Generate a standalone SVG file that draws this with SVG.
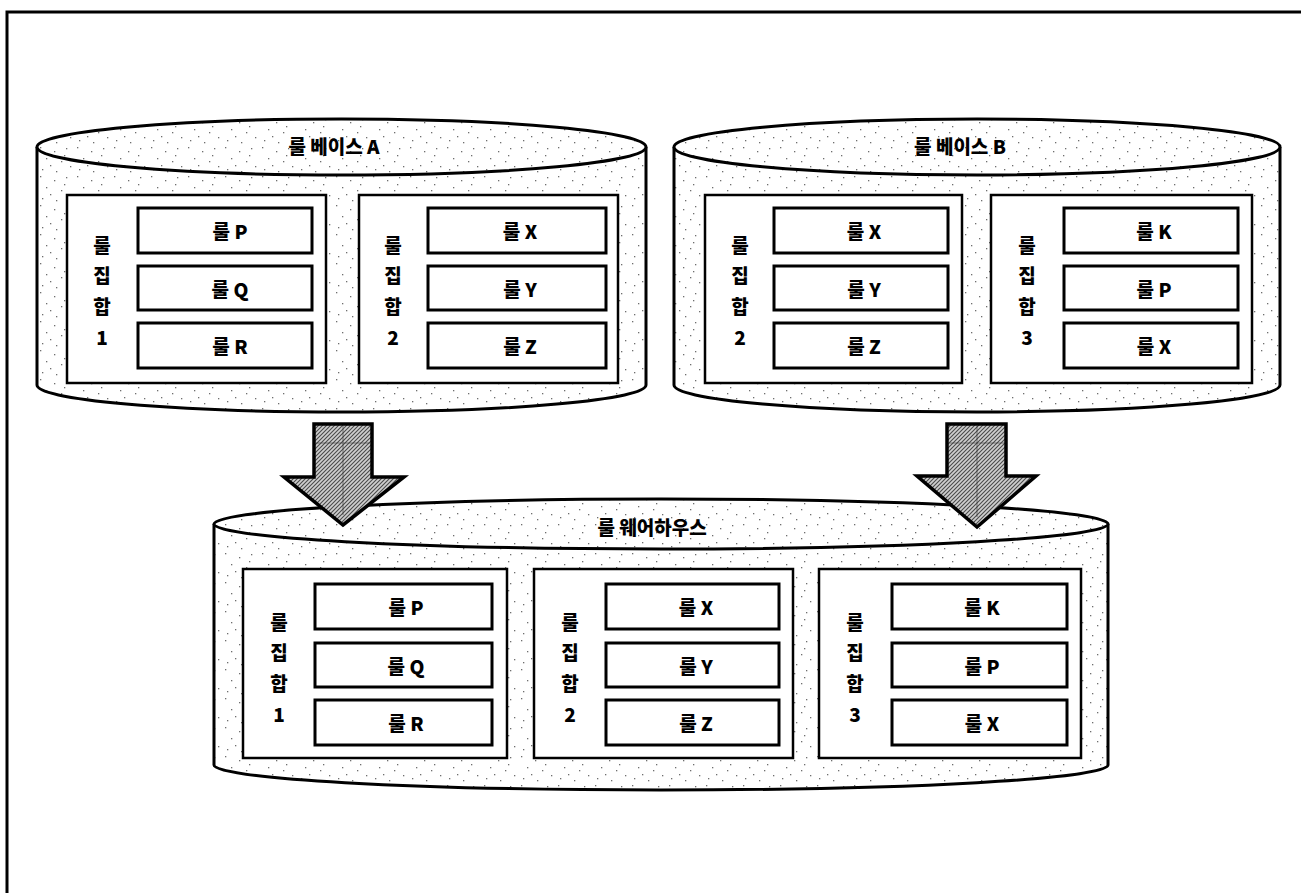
<svg xmlns="http://www.w3.org/2000/svg" width="1301" height="893" viewBox="0 0 1301 893">
  <defs>
    <!-- sparse speckle used on the cylinder bodies -->
    <pattern id="stipple" width="37" height="29" patternUnits="userSpaceOnUse">
      <rect width="37" height="29" fill="#fff"/>
      <g fill="#6e6e6e">
        <rect x="3" y="2" width="1.3" height="1.3"/>
        <rect x="17" y="6" width="1.3" height="1.3"/>
        <rect x="29" y="3" width="1.3" height="1.3"/>
        <rect x="9" y="13" width="1.3" height="1.3"/>
        <rect x="24" y="16" width="1.3" height="1.3"/>
        <rect x="33" y="21" width="1.3" height="1.3"/>
        <rect x="5" y="24" width="1.3" height="1.3"/>
        <rect x="19" y="26" width="1.3" height="1.3"/>
        <rect x="13" y="20" width="1.3" height="1.3"/>
        <rect x="27" y="10" width="1.3" height="1.3"/>
      </g>
    </pattern>
    <!-- dense hatch used on the flow arrows -->
    <pattern id="hatch" width="4" height="4" patternUnits="userSpaceOnUse">
      <rect width="4" height="4" fill="#cfcfcf"/>
      <path d="M0,4 L4,0 M-1,1 L1,-1 M3,5 L5,3" stroke="#4a4a4a" stroke-width="1.1"/>
    </pattern>
  </defs>
  <style>
    .cyl { fill: url(#stipple); stroke: #000; stroke-width: 3; }
    .panel { fill: #fff; stroke: #000; stroke-width: 2.5; }
    .rule { fill: #fff; stroke: #000; stroke-width: 3; }
    .t { font-family: "Noto Sans CJK KR", "Noto Sans", sans-serif; font-weight: 900; font-size: 19px; text-anchor: middle; dominant-baseline: central; fill: #000; }
    .arrow { fill: url(#hatch); stroke: #000; stroke-width: 3.5; stroke-linejoin: miter; }
    .seam { stroke: #333; stroke-width: 1; opacity: 0.6; fill: none; }
  </style>

  <rect width="1301" height="893" fill="#fff"/>

  <!-- page frame: top and left edges only -->
  <path id="frame" d="M7,893 V12 H1301" fill="none" stroke="#000" stroke-width="3"/>

  <!-- rule base A -->
  <g id="rulebase-a">
    <path class="cyl" d="M37,147 V385 A304.5,27 0 0 0 646,385 V147"/>
    <ellipse class="cyl" cx="341.5" cy="147" rx="304.5" ry="28"/>
    <text class="t" x="334" y="145">룰 베이스 A</text>
    <g id="a-set1">
      <rect class="panel" x="67" y="195" width="259" height="188"/>
      <text class="t" x="102" y="244">룰</text>
      <text class="t" x="102" y="274">집</text>
      <text class="t" x="102" y="305">합</text>
      <text class="t" x="102" y="336">1</text>
      <g id="a-set1-p"><rect class="rule" x="138" y="208" width="174" height="45"/><text class="t" x="230" y="230">룰 P</text></g>
      <g id="a-set1-q"><rect class="rule" x="138" y="266" width="174" height="44"/><text class="t" x="230" y="288">룰 Q</text></g>
      <g id="a-set1-r"><rect class="rule" x="138" y="323" width="174" height="45"/><text class="t" x="230" y="345">룰 R</text></g>
    </g>
    <g id="a-set2">
      <rect class="panel" x="359" y="195" width="259" height="188"/>
      <text class="t" x="393" y="244">룰</text>
      <text class="t" x="393" y="274">집</text>
      <text class="t" x="393" y="305">합</text>
      <text class="t" x="393" y="336">2</text>
      <g id="a-set2-x"><rect class="rule" x="428" y="208" width="178" height="45"/><text class="t" x="520" y="230">룰 X</text></g>
      <g id="a-set2-y"><rect class="rule" x="428" y="266" width="178" height="44"/><text class="t" x="520" y="288">룰 Y</text></g>
      <g id="a-set2-z"><rect class="rule" x="428" y="323" width="178" height="45"/><text class="t" x="520" y="345">룰 Z</text></g>
    </g>
  </g>

  <!-- rule base B -->
  <g id="rulebase-b">
    <path class="cyl" d="M674,147 V385 A303,27 0 0 0 1280,385 V147"/>
    <ellipse class="cyl" cx="977" cy="147" rx="303" ry="28"/>
    <text class="t" x="960" y="145">룰 베이스 B</text>
    <g id="b-set2">
      <rect class="panel" x="705" y="195" width="257" height="188"/>
      <text class="t" x="740" y="244">룰</text>
      <text class="t" x="740" y="274">집</text>
      <text class="t" x="740" y="305">합</text>
      <text class="t" x="740" y="336">2</text>
      <g id="b-set2-x"><rect class="rule" x="774" y="208" width="174" height="45"/><text class="t" x="864" y="230">룰 X</text></g>
      <g id="b-set2-y"><rect class="rule" x="774" y="266" width="174" height="44"/><text class="t" x="864" y="288">룰 Y</text></g>
      <g id="b-set2-z"><rect class="rule" x="774" y="323" width="174" height="45"/><text class="t" x="864" y="345">룰 Z</text></g>
    </g>
    <g id="b-set3">
      <rect class="panel" x="991" y="195" width="261" height="188"/>
      <text class="t" x="1027" y="244">룰</text>
      <text class="t" x="1027" y="274">집</text>
      <text class="t" x="1027" y="305">합</text>
      <text class="t" x="1027" y="336">3</text>
      <g id="b-set3-k"><rect class="rule" x="1064" y="208" width="174" height="45"/><text class="t" x="1154" y="230">룰 K</text></g>
      <g id="b-set3-p"><rect class="rule" x="1064" y="266" width="174" height="44"/><text class="t" x="1154" y="288">룰 P</text></g>
      <g id="b-set3-x"><rect class="rule" x="1064" y="323" width="174" height="45"/><text class="t" x="1154" y="345">룰 X</text></g>
    </g>
  </g>

  <!-- rule warehouse -->
  <g id="warehouse">
    <path class="cyl" d="M214,524 V765 A447,25 0 0 0 1108,765 V524"/>
    <ellipse class="cyl" cx="661" cy="524" rx="447" ry="25"/>
    <text class="t" x="652" y="526">룰 웨어하우스</text>
    <g id="w-set1">
      <rect class="panel" x="243" y="569" width="264" height="189"/>
      <text class="t" x="279" y="621">룰</text>
      <text class="t" x="279" y="651">집</text>
      <text class="t" x="279" y="682">합</text>
      <text class="t" x="279" y="713">1</text>
      <g id="w-set1-p"><rect class="rule" x="315" y="584" width="177" height="45"/><text class="t" x="406" y="606">룰 P</text></g>
      <g id="w-set1-q"><rect class="rule" x="315" y="643" width="177" height="44"/><text class="t" x="406" y="665">룰 Q</text></g>
      <g id="w-set1-r"><rect class="rule" x="315" y="700" width="177" height="45"/><text class="t" x="406" y="722">룰 R</text></g>
    </g>
    <g id="w-set2">
      <rect class="panel" x="534" y="569" width="259" height="189"/>
      <text class="t" x="570" y="621">룰</text>
      <text class="t" x="570" y="651">집</text>
      <text class="t" x="570" y="682">합</text>
      <text class="t" x="570" y="713">2</text>
      <g id="w-set2-x"><rect class="rule" x="606" y="584" width="173" height="45"/><text class="t" x="696" y="606">룰 X</text></g>
      <g id="w-set2-y"><rect class="rule" x="606" y="643" width="173" height="44"/><text class="t" x="696" y="665">룰 Y</text></g>
      <g id="w-set2-z"><rect class="rule" x="606" y="700" width="173" height="45"/><text class="t" x="696" y="722">룰 Z</text></g>
    </g>
    <g id="w-set3">
      <rect class="panel" x="819" y="569" width="262" height="189"/>
      <text class="t" x="855" y="621">룰</text>
      <text class="t" x="855" y="651">집</text>
      <text class="t" x="855" y="682">합</text>
      <text class="t" x="855" y="713">3</text>
      <g id="w-set3-k"><rect class="rule" x="892" y="584" width="175" height="45"/><text class="t" x="982" y="606">룰 K</text></g>
      <g id="w-set3-p"><rect class="rule" x="892" y="643" width="175" height="44"/><text class="t" x="982" y="665">룰 P</text></g>
      <g id="w-set3-x"><rect class="rule" x="892" y="700" width="175" height="45"/><text class="t" x="982" y="722">룰 X</text></g>
    </g>
  </g>

  <!-- merge arrows from each rule base into the warehouse -->
  <g id="connectors">
    <g id="arrow-a">
      <polygon class="arrow" points="314,424 372,424 372,477 404,477 343,525 284,477 314,477"/>
      <path class="seam" d="M343,426 V515 M316,443 H370"/>
    </g>
    <g id="arrow-b">
      <polygon class="arrow" points="947,424 1006,424 1006,476 1036,476 977,527 917,476 947,476"/>
      <path class="seam" d="M977,426 V517 M949,443 H1004"/>
    </g>
  </g>
</svg>
